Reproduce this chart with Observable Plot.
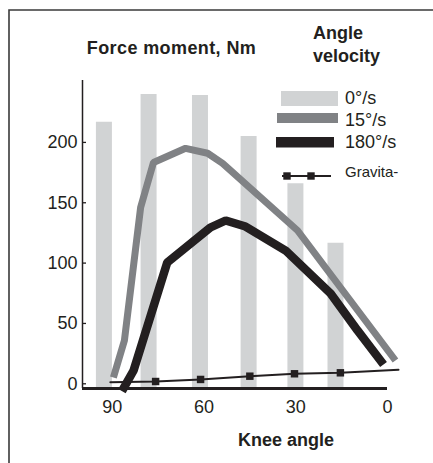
<!DOCTYPE html>
<html><head><meta charset="utf-8">
<script src="https://cdn.jsdelivr.net/npm/d3@7"></script>
<script src="https://cdn.jsdelivr.net/npm/@observablehq/plot@0.6"></script>
<style>body{margin:0;background:#fff} svg{display:block}</style>
</head><body><div id="chart"></div>
<script>
// 0°/s (isometric) bars
const barAngles = [92.7, 78.1, 61.3, 45.4, 30.1, 17.0];
const barValues = [216.7, 239.6, 238.9, 205, 165.7, 116.5];
// 15°/s line
const slowAngles = [89.6, 86.0, 80.7, 76.5, 66.0, 58.8, 53.9, 29.4, -2.6];
const slowValues = [5.2, 35.9, 146.1, 183.4, 195.1, 191, 182.7, 127, 19.3];
// 180°/s line
const fastAngles = [86.8, 83.0, 72.0, 57.9, 52.9, 46.4, 33.3, 18.6, 9.8, 1.3];
const fastValues = [-6, 11.0, 100.5, 129.5, 135.3, 130.3, 110.4, 74.8, 44.2, 16];
// Gravitation line (ends) and markers
const gravAngles = [90.6, 75.8, 61.1, 45.0, 30.4, 15.4, -3.6];
const gravValues = [1.3, 1.9, 3.6, 6.3, 8.3, 9.1, 11.6];
const gravMarkerIdx = [1, 2, 3, 4, 5];
// ticks & texts
const xTicks = [90, 60, 30, 0];
const yTicks = [0, 50, 100, 150, 200];
const xDomain = [99.7, 0];
const yDomain = [-3.9, 251.3];
const legendLabels = ["0°/s", "15°/s", "180°/s", "Gravita-"];
const titleText = "Force moment, Nm";
const legendTitle = ["Angle", "velocity"];
const xLabel = "Knee angle";

const C_LIGHT = "#d1d3d4", C_GREY = "#808285", C_BLACK = "#231f20";
const FONT = "Liberation Sans, Arial, Helvetica, sans-serif";

const bars = barAngles.map((a, i) => ({a, v: barValues[i]}));
const slow = slowAngles.map((a, i) => ({a, v: slowValues[i]}));
const fast = fastAngles.map((a, i) => ({a, v: fastValues[i]}));
const grav = gravAngles.map((a, i) => ({a, v: gravValues[i]}));
const gravMarks = gravMarkerIdx.map(i => grav[i]);

const W = 433, H = 463, ML = 82, MR = 46, MT = 80, MB = 75;
const frameW = W - ML - MR;

const svg = Plot.plot({
  width: W, height: H,
  marginLeft: ML, marginRight: MR, marginTop: MT, marginBottom: MB,
  style: {fontFamily: FONT, color: C_BLACK, background: "#fff", overflow: "visible"},
  x: {domain: xDomain, label: null},
  y: {domain: yDomain, label: null},
  marks: [
    Plot.ruleX(bars, {x: "a", y1: yDomain[0], y2: "v", stroke: C_LIGHT, strokeWidth: 16}),
    Plot.line(grav, {x: "a", y: "v", stroke: C_BLACK, strokeWidth: 2}),
    Plot.dot(gravMarks, {x: "a", y: "v", symbol: "square", r: 4.2, fill: C_BLACK, stroke: "none"}),
    Plot.line(slow, {x: "a", y: "v", stroke: C_GREY, strokeWidth: 7, strokeLinecap: "butt", strokeLinejoin: "miter"}),
    Plot.line(fast, {x: "a", y: "v", stroke: C_BLACK, strokeWidth: 8.5, strokeLinecap: "butt", strokeLinejoin: "miter"}),
    Plot.ruleX([xDomain[0]], {stroke: C_BLACK, strokeWidth: 1.5}),
    Plot.ruleY([yDomain[0]], {stroke: C_BLACK, strokeWidth: 3}),
    Plot.tickY(yTicks, {y: d => d, insetLeft: 0, insetRight: frameW - 4, stroke: C_BLACK, strokeWidth: 1.3}),
    Plot.axisY({ticks: yTicks, tickSize: 0, tickPadding: 5, fontSize: 18, label: null}),
    Plot.axisX({ticks: xTicks, tickSize: 0, tickPadding: 12, fontSize: 18, label: null})
  ]
});

const s = d3.select(svg);
// outer border
s.append("path").attr("d", `M9,${H}V10H${W}`).attr("fill", "none").attr("stroke", "#3a3a3a").attr("stroke-width", 1.6);
// titles
const t = s.append("g").attr("font-family", FONT).attr("fill", C_BLACK).attr("font-weight", "bold").attr("font-size", 18);
t.append("text").attr("x", 171.5).attr("y", 54).attr("text-anchor", "middle").attr("letter-spacing", 0.4).text(titleText);
t.append("text").attr("x", 313).attr("y", 38.6).attr("text-anchor", "start").text(legendTitle[0]);
t.append("text").attr("x", 313).attr("y", 61.5).attr("text-anchor", "start").text(legendTitle[1]);
t.append("text").attr("x", 286).attr("y", 446).attr("text-anchor", "middle").text(xLabel);
// legend
const lg = s.append("g").attr("font-family", FONT).attr("fill", C_BLACK).attr("text-anchor", "start");
lg.append("rect").attr("x", 281).attr("y", 91).attr("width", 57).attr("height", 15).attr("fill", C_LIGHT);
lg.append("rect").attr("x", 277).attr("y", 113).attr("width", 61).attr("height", 10).attr("fill", C_GREY);
lg.append("rect").attr("x", 276).attr("y", 137).attr("width", 58).attr("height", 10.5).attr("fill", C_BLACK);
lg.append("line").attr("x1", 282).attr("x2", 331).attr("y1", 176).attr("y2", 176).attr("stroke", C_BLACK).attr("stroke-width", 2);
[287, 311].forEach(x => lg.append("rect").attr("x", x - 3.7).attr("y", 176 - 3.7).attr("width", 7.4).attr("height", 7.4).attr("fill", C_BLACK));
const ly = [104, 125.7, 148.3, 176.7];
legendLabels.forEach((l, i) => lg.append("text").attr("x", 345).attr("y", ly[i]).attr("font-size", i === 3 ? 15 : 18).text(l));

document.getElementById("chart").appendChild(svg);
</script>
</body></html>
